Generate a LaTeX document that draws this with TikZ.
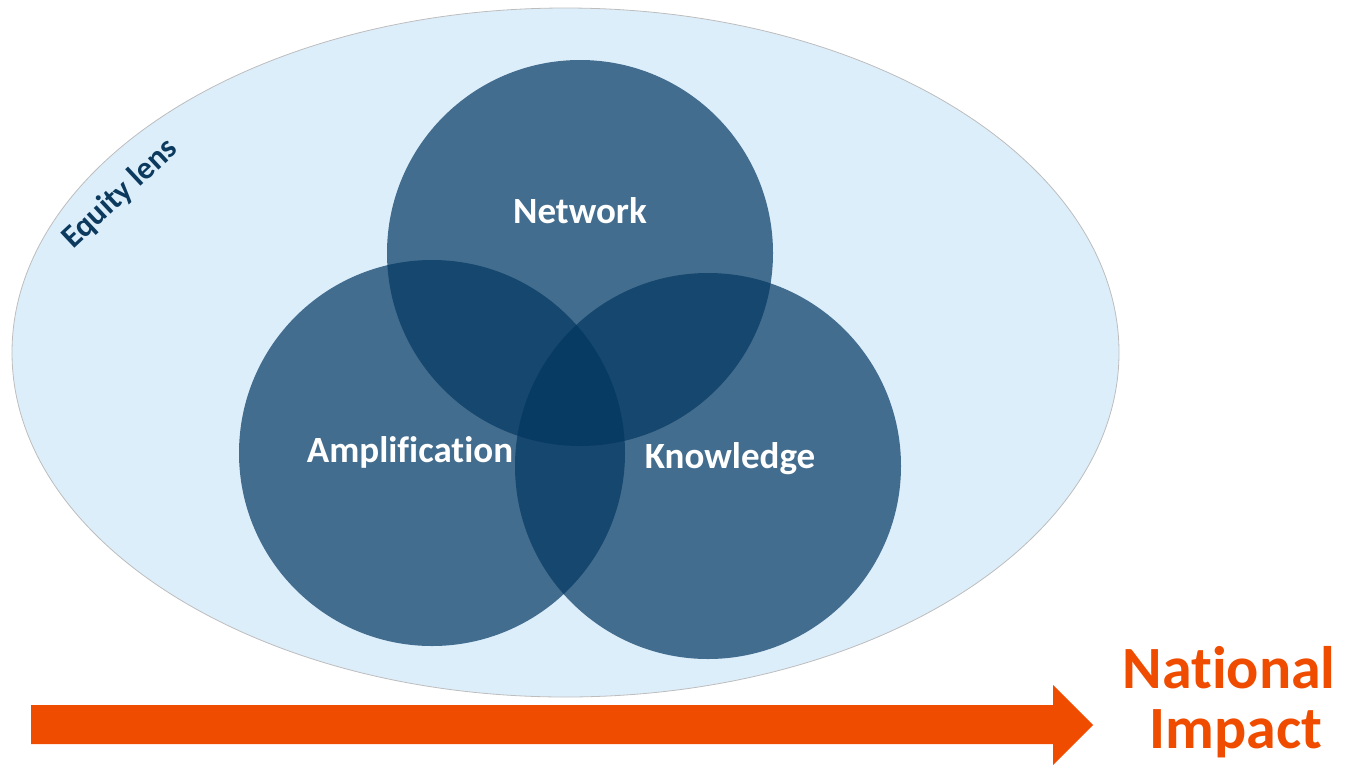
\documentclass[tikz,border=0pt]{standalone}
\usepackage{fontspec}
\setmainfont{Carlito}[Ligatures=NoCommon]
\usetikzlibrary{shapes.geometric}
\definecolor{lensfill}{HTML}{DDEEFB}
\definecolor{lensline}{HTML}{BDBDBD}
\definecolor{circcol}{RGB}{3,55,97}
\definecolor{impact}{RGB}{239,76,0}
\definecolor{navy}{HTML}{0B3A5E}
\begin{document}
\begin{tikzpicture}[x=1pt,y=-1pt,
  lens/.style={ellipse,draw=lensline,line width=0.8pt,fill=lensfill,minimum width=1107pt,minimum height=689pt,inner sep=0pt},
  venn/.style={circle,fill=circcol,fill opacity=0.7,minimum size=386pt,inner sep=0pt},
  vlabel/.style={text=white,font=\bfseries\fontsize{37}{44}\selectfont,anchor=base,inner sep=0pt},
  implabel/.style={text=impact,font=\bfseries\fontsize{60}{60}\selectfont,anchor=base,inner sep=0pt}]
\useasboundingbox (0,0) rectangle (1354,764);
\node[lens] (lens) at (565.5,352.5) {};
\node[venn] (net) at (580,253) {};
\node[venn] (amp) at (432,453) {};
\node[venn] (know) at (708,466) {};
\node[vlabel] (netl) at (580,223) {Network};
\node[vlabel] (ampl) at (410,462) {Amplification};
\node[vlabel] (knowl) at (730,468) {Knowledge};
\node[text=navy,font=\bfseries\fontsize{32}{38}\selectfont,rotate=43,inner sep=0pt] (eq) at (120,194) {Equity lens};
\fill[impact] (31,705) -- (1053,705) -- (1053,685) -- (1093,725) -- (1053,765) -- (1053,744) -- (31,744) -- cycle;
\node[implabel] (nat1) at (1229,688) {National};
\node[implabel] (nat2) at (1236,748) {Impact};
\end{tikzpicture}
\end{document}
